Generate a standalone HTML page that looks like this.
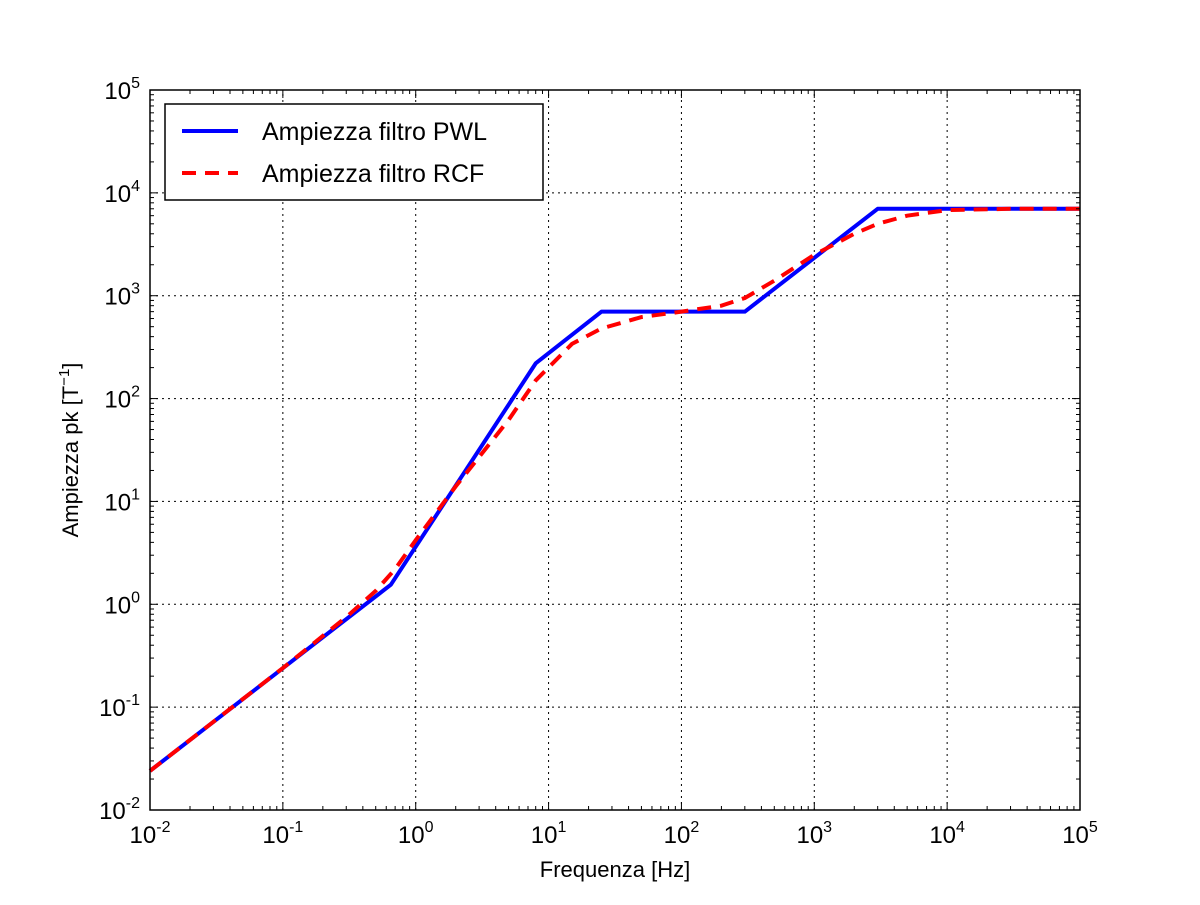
<!DOCTYPE html>
<html><head><meta charset="utf-8"><style>
body{margin:0;background:#fff}
svg text{font-family:"Liberation Sans",Arial,sans-serif;fill:#000}
</style></head><body>
<svg id="chart" width="1200" height="900" xmlns="http://www.w3.org/2000/svg">
<rect width="1200" height="900" fill="#fff"/>
<g id="grid"></g>
<g id="series"></g>
<g id="ticks"></g>
<rect x="150" y="90" width="930" height="720" fill="none" stroke="#000" stroke-width="1.5"/>
<g id="labels"></g>
<text x="615" y="877" font-size="22" text-anchor="middle">Frequenza [Hz]</text>
<text transform="translate(78,450) rotate(-90)" font-size="22" text-anchor="middle">Ampiezza pk [T<tspan font-size="15" dy="-9">−1</tspan><tspan dy="9">]</tspan></text>
<g>
<rect x="165" y="104" width="378" height="96" fill="#fff" stroke="#000" stroke-width="1.5"/>
<line x1="182" y1="131" x2="238" y2="131" stroke="#0000ff" stroke-width="4"/>
<text x="262" y="140" font-size="25">Ampiezza filtro PWL</text>
<line x1="182" y1="173" x2="238" y2="173" stroke="#ff0000" stroke-width="4" stroke-dasharray="14,9"/>
<text x="262" y="182" font-size="25">Ampiezza filtro RCF</text>
</g>
</svg>
<script>
const xTickExps=[-2,-1,0,1,2,3,4,5];
const yTickExps=[-2,-1,0,1,2,3,4,5];
const pwlX=[0.01,0.65,8,25,300,3000,100000];
const pwlY=[0.024,1.55,220,700,700,7000,7000];
const rcfX=[0.01,0.1,0.3,0.5,0.7,1,2,5,8,15,25,50,100,200,300,500,1000,2000,3000,5000,10000,30000,100000];
const rcfY=[0.024,0.24,0.75,1.35,2.2,4.2,14,62,150,340,480,620,700,800,950,1400,2500,4000,5000,6000,6800,7000,7000];
const X0=150,X1=1080,Y0=810,Y1=90;
const xs=v=>X0+(Math.log10(v)+2)/7*(X1-X0);
const ys=v=>Y0-(Math.log10(v)+2)/7*(Y0-Y1);
const NS='http://www.w3.org/2000/svg';
function mk(tag,attrs,parent){const e=document.createElementNS(NS,tag);for(const k in attrs)e.setAttribute(k,attrs[k]);document.getElementById(parent).appendChild(e);return e;}
xTickExps.forEach(e=>{const x=xs(Math.pow(10,e));
 if(e>-2&&e<5){const g=mk('line',{x1:x,y1:Y0,x2:x,y2:Y1,stroke:'#000','stroke-width':1,'stroke-dasharray':'2,4'},'grid');}
 [[Y0,Y0-8],[Y1,Y1+8]].forEach(p=>{const t=mk('line',{x1:x,y1:p[0],x2:x,y2:p[1],stroke:'#000','stroke-width':1},'ticks');});
 if(e<5)for(let m=2;m<10;m++){const xm=xs(m*Math.pow(10,e));[[Y0,Y0-4],[Y1,Y1+4]].forEach(p=>{const t=mk('line',{x1:xm,y1:p[0],x2:xm,y2:p[1],stroke:'#000','stroke-width':1},'ticks');});}
 const tx=mk('text',{x:x,y:843,'font-size':24,'text-anchor':'middle'},'labels');
 tx.innerHTML='10<tspan font-size="16" dy="-11">'+(e<0?'-':'')+Math.abs(e)+'</tspan>';
});
yTickExps.forEach(e=>{const y=ys(Math.pow(10,e));
 if(e>-2&&e<5){const g=mk('line',{x1:X0,y1:y,x2:X1,y2:y,stroke:'#000','stroke-width':1,'stroke-dasharray':'2,4'},'grid');}
 [[X0,X0+8],[X1,X1-8]].forEach(p=>{const t=mk('line',{x1:p[0],y1:y,x2:p[1],y2:y,stroke:'#000','stroke-width':1},'ticks');});
 if(e<5)for(let m=2;m<10;m++){const ym=ys(m*Math.pow(10,e));[[X0,X0+4],[X1,X1-4]].forEach(p=>{const t=mk('line',{x1:p[0],y1:ym,x2:p[1],y2:ym,stroke:'#000','stroke-width':1},'ticks');});}
 const tx=mk('text',{x:140,y:y+9,'font-size':24,'text-anchor':'end'},'labels');
 tx.innerHTML='10<tspan font-size="16" dy="-11">'+(e<0?'-':'')+Math.abs(e)+'</tspan>';
});
const pwl=mk('polyline',{points:pwlX.map((v,i)=>xs(v)+','+ys(pwlY[i])).join(' '),fill:'none',stroke:'#0000ff','stroke-width':4,'stroke-linejoin':'round'},'series');


const rcf=mk('polyline',{points:rcfX.map((v,i)=>xs(v)+','+ys(rcfY[i])).join(' '),fill:'none',stroke:'#ff0000','stroke-width':4,'stroke-dasharray':'14,9'},'series');


</script>
</body></html>
